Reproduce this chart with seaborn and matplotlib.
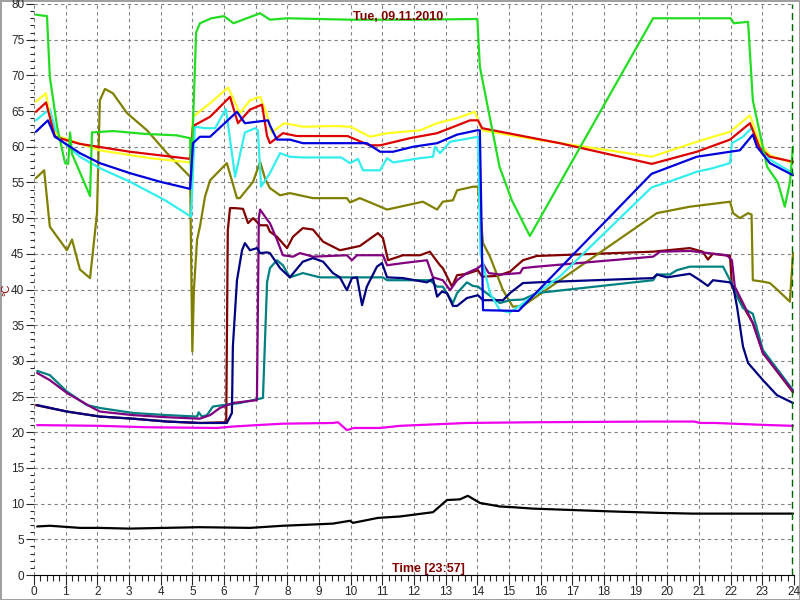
import matplotlib
matplotlib.use("Agg")
import matplotlib.pyplot as plt
from matplotlib.ticker import MultipleLocator
import seaborn as sns

sns.set_style("white")
plt.rcParams['font.family'] = ['Liberation Sans', 'DejaVu Sans']

# hours of the day (x) and temperatures in degC (y)
green_t = [0.06, 0.41, 0.5, 0.73, 0.98, 1.08, 1.14, 1.2, 1.77, 1.83, 2.5, 3.5, 4.5, 4.93, 4.96, 5.12, 5.24, 5.6, 6.0,
           6.3, 6.6, 7.14, 7.45, 8.0, 10.0, 12.0, 14.0, 14.08, 14.7, 15.09, 15.66, 19.55, 21.0, 22.0, 22.1, 22.55,
           22.7, 23.15, 23.49, 23.71, 23.87, 23.97]
green_v = [78.5, 78.3, 69.8, 62.8, 57.7, 57.6, 62.0, 59.0, 53.1, 62.0, 62.2, 61.8, 61.6, 61.2, 55.3, 76.0, 77.3, 78.0,
           78.3, 77.3, 77.8, 78.7, 77.8, 78.0, 77.8, 77.8, 77.9, 71.2, 57.2, 52.5, 47.5, 78.0, 78.0, 78.0, 77.3,
           77.5, 66.5, 57.2, 55.0, 51.6, 55.0, 60.0]

yellow_t = [0.06, 0.38, 0.57, 0.82, 2.08, 3.66, 4.93, 5.02, 5.56, 6.13, 6.5, 6.82, 7.14, 7.36, 7.5, 7.9, 8.5, 9.5,
            10.0, 10.61, 11.15, 12.19, 12.73, 13.36, 13.92, 14.15, 15.88, 19.51, 20.93, 21.98, 22.61, 22.92, 23.24,
            23.97]
yellow_v = [66.3, 67.5, 62.3, 61.4, 59.5, 58.4, 57.8, 64.2, 66.1, 68.3, 64.7, 66.5, 67.0, 64.5, 62.0, 63.3, 62.8,
            62.9, 62.8, 61.4, 61.9, 62.3, 63.3, 64.0, 64.9, 62.3, 61.0, 58.6, 60.7, 62.1, 64.4, 60.5, 58.8, 57.7]

red_t = [0.06, 0.38, 0.66, 1.45, 3.03, 4.93, 5.02, 5.56, 6.19, 6.44, 6.82, 7.2, 7.36, 7.45, 7.86, 8.3, 9.9, 10.6,
         10.93, 11.87, 12.73, 13.77, 14.02, 14.15, 16.6, 19.51, 20.93, 21.98, 22.61, 22.92, 23.24, 23.97]
red_v = [64.9, 66.2, 61.4, 60.4, 59.3, 58.3, 62.9, 64.2, 67.0, 63.3, 65.2, 65.9, 61.5, 60.5, 61.9, 61.5, 61.5, 60.2,
         60.2, 61.2, 61.9, 63.7, 63.7, 62.6, 60.5, 57.6, 59.3, 61.0, 63.3, 59.8, 58.6, 57.9]

blue_t = [0.06, 0.44, 0.66, 1.45, 2.08, 3.03, 3.98, 4.93, 5.02, 5.24, 5.56, 6.41, 6.66, 7.39, 7.45, 7.67, 8.08, 8.49,
          10.51, 10.93, 11.34, 11.97, 12.73, 13.36, 13.99, 14.08, 14.18, 15.3, 19.5, 20.93, 21.98, 22.29, 22.7,
          22.83, 23.24, 23.97]
blue_v = [62.1, 63.7, 61.4, 59.1, 57.7, 56.3, 55.1, 54.1, 60.5, 61.4, 61.4, 64.9, 63.3, 63.7, 63.0, 61.0, 61.0, 60.5,
          60.5, 59.3, 59.3, 60.0, 60.5, 61.7, 62.3, 62.3, 37.1, 37.0, 56.2, 58.6, 59.3, 59.5, 61.7, 60.0, 57.7, 56.0]

cyan_t = [0.06, 0.5, 0.73, 1.45, 2.08, 3.03, 4.14, 4.96, 5.08, 5.4, 5.72, 6.06, 6.35, 6.66, 6.98, 7.07, 7.17, 7.45,
          7.77, 8.08, 8.49, 9.7, 9.98, 10.23, 10.39, 10.93, 11.15, 11.34, 12.19, 12.6, 12.66, 12.82, 13.14, 14.02,
          14.1, 14.4, 14.71, 15.03, 15.3, 16.6, 19.5, 20.18, 20.93, 21.35, 21.98, 22.04, 22.39, 22.7, 22.92, 23.24,
          23.97]
cyan_v = [63.7, 65.3, 61.4, 58.6, 57.0, 55.1, 52.5, 50.2, 62.8, 62.6, 62.6, 65.3, 55.8, 62.0, 62.6, 62.3, 54.4, 56.3,
          59.1, 58.6, 58.5, 58.5, 57.7, 58.3, 56.7, 56.7, 58.4, 57.8, 58.4, 58.6, 60.0, 59.1, 60.7, 61.4,
          45.0, 39.5, 37.1, 36.8, 37.6, 41.8, 54.3, 55.3, 56.5, 56.9, 57.7, 60.5, 61.4, 62.8, 60.2, 58.2, 56.3]

olive_t = [0.06, 0.32, 0.5, 1.04, 1.2, 1.45, 1.77, 1.99, 2.08, 2.24, 2.49, 2.94, 3.57, 4.2, 4.93, 5.0, 5.05, 5.15,
           5.24, 5.4, 5.56, 6.09, 6.41, 6.5, 6.92, 7.14, 7.3, 7.45, 7.77, 8.08, 8.81, 9.88, 9.98, 10.29, 11.15,
           12.28, 12.73, 12.91, 13.23, 13.36, 13.86, 14.02, 14.18, 14.4, 14.81, 15.12, 15.44, 19.67, 20.71, 21.98,
           22.08, 22.29, 22.55, 22.66, 22.7, 23.02, 23.24, 23.49, 23.87, 23.97]
olive_v = [55.6, 56.7, 48.8, 45.5, 47.0, 42.8, 41.6, 50.7, 66.5, 68.1, 67.5, 64.7, 62.3, 59.1, 55.8, 31.3, 40.0,
           47.0, 48.8, 53.0, 55.3, 57.7, 52.8, 52.8, 55.1, 57.9, 55.5, 54.2, 53.2, 53.5, 52.8, 52.8, 52.2, 52.8,
           51.2, 52.3, 51.2, 52.3, 52.5, 53.9, 54.4, 54.4, 46.5, 44.6, 39.9, 37.6, 37.7, 50.7, 51.6, 52.3, 50.7,
           50.0, 50.7, 50.5, 41.3, 41.1, 40.9, 39.9, 38.3, 45.1]

maroon_t = [0.06, 1.04, 2.08, 3.13, 4.2, 5.24, 6.07, 6.12, 6.19, 6.35, 6.6, 6.76, 6.92, 7.14, 7.36, 7.45, 7.67,
            7.99, 8.18, 8.49, 8.81, 9.13, 9.66, 9.98, 10.29, 10.86, 11.02, 11.18, 11.65, 12.19, 12.5, 12.82, 12.91,
            13.2, 13.36, 13.67, 14.02, 14.15, 14.62, 15.03, 15.44, 15.88, 19.55, 19.77, 20.71, 21.12, 21.28, 21.44,
            21.98, 22.04, 22.7, 23.02, 23.97]
maroon_v = [23.8, 22.9, 22.2, 21.9, 21.5, 21.3, 21.4, 48.3, 51.4, 51.4, 51.3, 49.3, 50.0, 49.0, 49.0, 48.1, 47.4,
            45.8, 47.4, 48.6, 48.4, 46.7, 45.5, 45.8, 46.1, 47.9, 47.2, 44.1, 44.8, 44.8, 45.3, 43.4, 43.0, 40.4,
            42.0, 42.2, 42.7, 41.8, 41.9, 42.5, 44.1, 44.7, 45.3, 45.4, 45.8, 45.3, 44.2, 45.0, 44.7, 40.4, 35.3,
            31.1, 25.6]

purple_t = [0.1, 0.5, 1.04, 1.86, 2.08, 3.13, 4.2, 5.24, 5.56, 5.87, 6.28, 7.04, 7.1, 7.14, 7.36, 7.45, 7.67, 7.86,
            8.18, 8.4, 8.81, 9.88, 10.04, 10.2, 11.02, 11.15, 11.65, 12.41, 12.6, 12.91, 13.14, 13.36, 13.67, 14.02,
            14.18, 14.36, 14.71, 15.35, 15.44, 15.88, 19.55, 19.77, 20.71, 21.88, 22.04, 22.13, 22.39, 22.7, 23.02,
            23.97]
purple_v = [28.3, 27.3, 25.5, 23.4, 22.9, 22.4, 22.1, 21.9, 22.4, 23.4, 24.1, 24.5, 50.0, 51.2, 49.8, 49.3, 47.0,
            44.8, 44.6, 45.1, 44.6, 44.8, 44.1, 44.8, 44.8, 43.4, 43.7, 44.1, 41.7, 41.3, 39.9, 41.3, 42.3, 43.0,
            43.6, 42.3, 42.1, 42.3, 43.0, 43.2, 44.6, 45.3, 45.4, 44.8, 44.1, 40.4, 38.1, 35.3, 31.1, 25.7]

navy_t = [0.1, 1.04, 2.08, 3.13, 4.2, 5.24, 6.09, 6.25, 6.28, 6.41, 6.57, 6.66, 6.82, 7.04, 7.14, 7.36, 7.45, 7.77,
          8.08, 8.49, 8.81, 9.13, 9.44, 9.66, 9.88, 10.04, 10.2, 10.36, 10.51, 10.83, 10.99, 11.15, 11.65, 12.41,
          12.6, 12.73, 12.88, 13.04, 13.23, 13.36, 13.67, 14.02, 14.18, 14.81, 15.03, 15.44, 15.88, 19.55, 19.67,
          19.99, 20.71, 21.03, 21.28, 21.44, 21.98, 22.08, 22.2, 22.39, 22.55, 23.02, 23.46, 23.97]
navy_v = [23.8, 22.9, 22.2, 21.9, 21.5, 21.3, 21.3, 22.7, 32.0, 41.3, 45.5, 46.5, 45.5, 45.8, 45.1, 45.2, 45.1,
          43.0, 41.7, 43.9, 44.4, 43.9, 42.3, 41.7, 39.9, 41.6, 41.7, 37.8, 40.4, 43.2, 43.7, 41.7, 41.6, 41.0,
          41.5, 39.0, 39.7, 39.5, 37.7, 37.7, 38.8, 39.2, 38.5, 38.5, 39.5, 40.9, 41.0, 41.6, 42.1, 41.7, 42.2,
          41.3, 40.5, 41.3, 41.0, 40.4, 37.6, 32.0, 29.7, 27.3, 25.2, 24.1]

teal_t = [0.1, 0.5, 1.04, 1.67, 2.08, 3.13, 4.2, 5.15, 5.2, 5.3, 5.46, 5.65, 5.97, 6.5, 7.23, 7.36, 7.45, 7.67,
          7.86, 8.08, 8.49, 9.03, 10.2, 11.02, 11.15, 12.5, 12.73, 12.91, 13.23, 13.36, 13.67, 13.86, 14.02, 14.71,
          15.03, 15.44, 15.88, 19.55, 19.67, 20.08, 20.3, 20.71, 21.76, 21.98, 22.2, 22.39, 22.7, 23.02, 23.97]
teal_v = [28.6, 28.0, 25.7, 23.8, 23.4, 22.7, 22.4, 22.2, 22.8, 22.2, 22.4, 23.6, 23.8, 24.1, 24.8, 41.0, 43.0,
          44.1, 43.4, 41.7, 42.3, 41.7, 41.7, 41.7, 41.3, 41.3, 40.4, 40.4, 38.1, 39.5, 41.0, 40.5, 40.4, 38.1,
          38.5, 38.6, 39.5, 41.3, 42.1, 42.1, 42.7, 43.2, 43.2, 41.3, 39.0, 37.4, 36.6, 31.5, 25.9]

magenta_t = [0.1, 2.08, 3.57, 5.78, 6.28, 7.04, 7.86, 9.44, 9.6, 9.88, 10.1, 10.93, 11.56, 13.67, 15.76, 19.55,
             20.85, 21.03, 21.5, 23.24, 23.97]
magenta_v = [21.0, 20.9, 20.7, 20.6, 20.8, 21.0, 21.2, 21.3, 21.4, 20.3, 20.6, 20.6, 20.9, 21.3, 21.4, 21.5, 21.5,
             21.3, 21.3, 21.0, 20.9]

black_t = [0.1, 0.5, 1.45, 2.08, 3.0, 5.24, 6.82, 7.86, 8.94, 9.44, 9.98, 10.07, 10.86, 11.56, 12.6, 13.04, 13.45,
           13.7, 14.08, 14.71, 15.12, 15.76, 18.28, 19.77, 20.81, 23.97]
black_v = [6.8, 6.9, 6.6, 6.6, 6.5, 6.7, 6.6, 6.9, 7.1, 7.2, 7.6, 7.3, 8.0, 8.2, 8.8, 10.5, 10.6, 11.1, 10.1, 9.6,
           9.5, 9.3, 8.9, 8.7, 8.6, 8.6]

## drawing order matters: maroon hides under navy before 6 o'clock
series = [
    (maroon_t, maroon_v, "#800000"),
    (magenta_t, magenta_v, "#ee00ee"),
    (black_t, black_v, "#000000"),
    (olive_t, olive_v, "#808000"),
    (teal_t, teal_v, "#008080"),
    (purple_t, purple_v, "#800080"),
    (navy_t, navy_v, "#000080"),
    (cyan_t, cyan_v, "#33eeee"),
    (yellow_t, yellow_v, "#ffff22"),
    (red_t, red_v, "#dd0000"),
    (green_t, green_v, "#22dd22"),
    (blue_t, blue_v, "#0000dd"),
]

fig = plt.figure(figsize=(8, 6), dpi=100)
fig.patch.set_edgecolor("#a0a0a0")
fig.patch.set_linewidth(2)
ax = fig.add_axes([34 / 800, 25 / 600, 760 / 800, 571 / 600])

for t, v, c in series:
    sns.lineplot(x=t, y=v, color=c, lw=1.6, ax=ax, sort=False, estimator=None, legend=False)

ax.set_xlim(0, 24)
ax.set_ylim(0, 80)
ax.xaxis.set_major_locator(MultipleLocator(1))
ax.xaxis.set_minor_locator(MultipleLocator(0.2))
ax.yaxis.set_major_locator(MultipleLocator(5))
ax.yaxis.set_minor_locator(MultipleLocator(1))
ax.grid(True, which="major", color="#808080", lw=0.8, ls=(0, (3, 3)))
ax.tick_params(axis="x", which="major", length=7, width=0.8, labelsize=8.5, pad=1, direction="out", bottom=True)
ax.tick_params(axis="x", which="minor", length=4, width=0.8, direction="out", bottom=True)
ax.tick_params(axis="y", which="major", length=6, width=0.8, labelsize=8.5, pad=1, direction="out", left=True)
ax.tick_params(axis="y", which="minor", length=3, width=0.8, direction="out", left=True)

for s in ["top", "right", "left"]:
    ax.spines[s].set_visible(False)
ax.spines["bottom"].set_color("black")
ax.spines["bottom"].set_linewidth(0.8)

## current time marker
ax.axvline(23.95, color="#006400", lw=1, ls=(0, (5, 3)))

ax.text(11.5, 78.2, "Tue, 09.11.2010", color="#800000", fontsize=9, fontweight="bold", ha="center", va="center")
ax.text(12.45, 0.9, "Time [23:57]", color="#800000", fontsize=9, fontweight="bold", ha="center", va="center")
## y label sits right next to the tick labels, so place it by hand
fig.text(6 / 800, 1 - 290 / 600, "°C", color="#800000", fontsize=8, rotation=90, ha="center", va="center")

fig.savefig("out.png", dpi=100)
